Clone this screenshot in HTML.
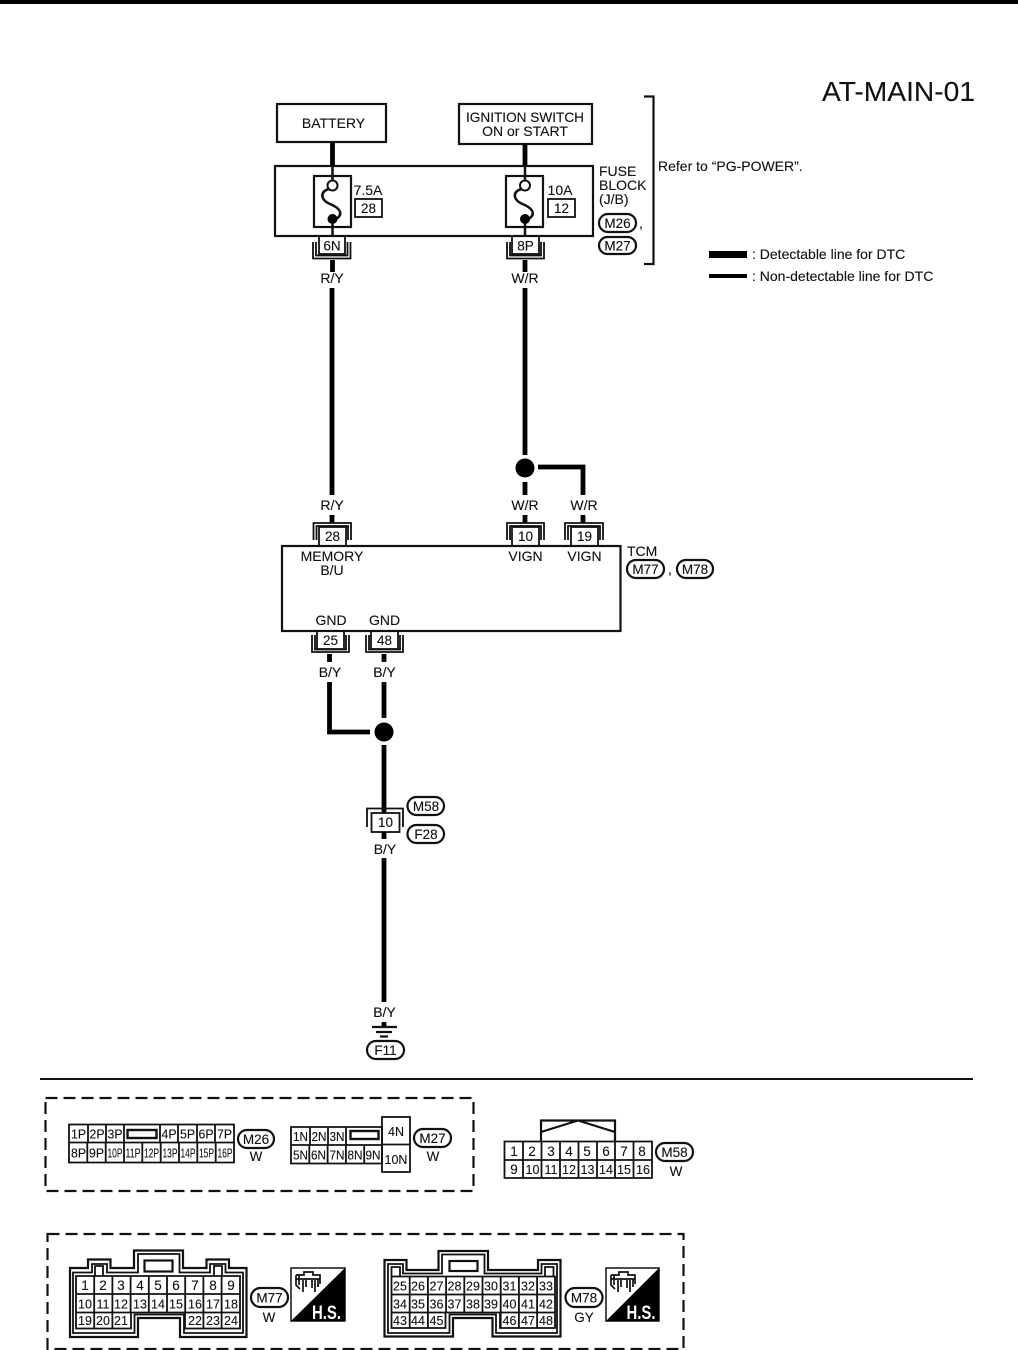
<!DOCTYPE html>
<html><head><meta charset="utf-8"><style>
html,body{margin:0;padding:0;background:#fff}
svg{display:block}
text{font-family:"Liberation Sans",sans-serif;font-size:14px;fill:#111;text-anchor:middle;stroke:#111;stroke-width:.12}
.l{text-anchor:start}
.s{font-size:12.5px}
.n{font-size:13.5px}
.b{fill:none;stroke:#111;stroke-width:2.2}
.t{fill:none;stroke:#111;stroke-width:1.8}
.w{fill:none;stroke:#000;stroke-width:4.8}
.f{fill:none;stroke:#111;stroke-width:2.5}
.d{fill:none;stroke:#111;stroke-width:2.2;stroke-dasharray:12 6}
</style></head><body>
<svg width="1018" height="1350" viewBox="0 0 1018 1350" xmlns="http://www.w3.org/2000/svg">
<rect width="1018" height="1350" fill="#fff"/>
<rect width="1018" height="4" fill="#000"/>
<text x="975" y="101" style="font-size:28.200px;text-anchor:end">AT-MAIN-01</text>

<!-- top boxes -->
<rect class="b" x="277" y="104" width="109" height="38"/>
<text x="333.500" y="128">BATTERY</text>
<rect class="b" x="459" y="104" width="133" height="40"/>
<text x="525" y="122" textLength="118" lengthAdjust="spacingAndGlyphs">IGNITION SWITCH</text>
<text x="525" y="136">ON or START</text>
<path class="w" d="M332.500 142V166M525 144V166"/>

<!-- fuse block -->
<rect class="b" x="275" y="166" width="318" height="70"/>
<rect class="b" x="314" y="176" width="37" height="51"/>
<rect class="b" x="506" y="176" width="37" height="51"/>
<path class="f" d="M332.500 166V181M332.500 219V236"/>
<path class="f" d="M525 166V181M525 219V236"/>
<path class="f" d="M329 189C319 192 321 200 330 204C340 208 344 214 336 219"/>
<path class="f" d="M521.500 189C511.500 192 513.500 200 522.500 204C532.500 208 536.500 214 528.500 219"/>
<circle cx="332.500" cy="185.500" r="5" fill="#fff" stroke="#111" stroke-width="2"/>
<circle cx="525" cy="185.500" r="5" fill="#fff" stroke="#111" stroke-width="2"/>
<circle cx="332.500" cy="219" r="5" fill="#000"/>
<circle cx="525" cy="219" r="5" fill="#000"/>
<text x="368" y="195">7.5A</text>
<rect class="t" x="355" y="199" width="27" height="18"/>
<text x="368.500" y="213" class="n">28</text>
<text x="560" y="195">10A</text>
<rect class="t" x="548" y="199" width="27" height="18"/>
<text x="561.500" y="213" class="n">12</text>
<text x="599" y="176" class="l">FUSE</text>
<text x="599" y="190" class="l">BLOCK</text>
<text x="599" y="204" class="l">(J/B)</text>
<rect class="b" x="599" y="214" width="37" height="18" rx="9"/>
<text x="617.500" y="228" class="n">M26</text>
<text x="641" y="228">,</text>
<rect class="b" x="599" y="237" width="37" height="17" rx="8.500"/>
<text x="617.500" y="250.500" class="n">M27</text>
<path class="b" d="M644 96.500H653.500V264H644"/>
<text x="658" y="171" class="l">Refer to “PG-POWER”.</text>

<!-- legend -->
<rect x="709" y="251" width="38" height="7" fill="#000"/>
<rect x="709" y="274" width="38" height="4" fill="#000"/>
<text x="752" y="259" class="l">: Detectable line for DTC</text>
<text x="752" y="281" class="l">: Non-detectable line for DTC</text>

<!-- connectors below fuse block -->
<rect class="t" x="319" y="236" width="26" height="18"/>
<text x="332" y="250.500" class="n">6N</text>
<path class="t" d="M313 242V258.500H350.500V242M316 242V255.500H347.500V242"/>
<rect class="t" x="512" y="236" width="27" height="18"/>
<text x="525.500" y="250.500" class="n">8P</text>
<path class="t" d="M507 242V258.500H544V242M510 242V255.500H541V242"/>
<path class="w" d="M332.500 260V272M525 260V272"/>
<text x="332" y="283">R/Y</text>
<text x="525" y="283">W/R</text>

<!-- main wires -->
<path class="w" d="M332 288V495M332 515V523"/>
<text x="332" y="510">R/Y</text>
<path class="w" d="M525 288V455M525 482V495M525 515V523"/>
<circle cx="525" cy="468" r="9.500" fill="#000"/>
<path class="w" d="M538 467H583V495M583 515V523"/>
<text x="525" y="510">W/R</text>
<text x="584" y="510">W/R</text>

<!-- TCM top connectors -->
<path class="t" d="M313.500 540V523H351V540M316.500 540V526H348V540"/>
<rect class="t" x="319" y="527" width="27" height="19"/>
<text x="332.500" y="541" class="n">28</text>
<path class="t" d="M507 540V523H544V540M510 540V526H541V540"/>
<rect class="t" x="512" y="527" width="27" height="19"/>
<text x="525.500" y="541" class="n">10</text>
<path class="t" d="M565 540V523H603V540M568 540V526H600V540"/>
<rect class="t" x="571" y="527" width="27" height="19"/>
<text x="584.500" y="541" class="n">19</text>

<!-- TCM -->
<rect class="b" x="282" y="546" width="338.500" height="85"/>
<text x="332" y="561">MEMORY</text>
<text x="332" y="575">B/U</text>
<text x="525.500" y="561">VIGN</text>
<text x="584.500" y="561">VIGN</text>
<text x="331" y="625">GND</text>
<text x="384.500" y="625">GND</text>
<text x="627" y="556" class="l">TCM</text>
<rect class="b" x="627" y="560" width="37" height="18" rx="9"/>
<text x="645.500" y="574" class="n">M77</text>
<text x="670" y="574">,</text>
<rect class="b" x="677" y="560" width="36" height="18" rx="9"/>
<text x="695" y="574" class="n">M78</text>

<!-- TCM bottom connectors -->
<rect class="t" x="317" y="631" width="27" height="18"/>
<text x="330.500" y="645" class="n">25</text>
<path class="t" d="M312 635V652H349V635M315 635V649.500H346V635"/>
<rect class="t" x="371" y="631" width="27" height="18"/>
<text x="384.500" y="645" class="n">48</text>
<path class="t" d="M366 635V652H403V635M369 635V649.500H400V635"/>
<path class="w" d="M329.500 654V662M384 654V662"/>
<text x="330" y="677">B/Y</text>
<text x="384.500" y="677">B/Y</text>
<path class="w" d="M329.500 682V732H370"/>
<path class="w" d="M384 682V718"/>
<circle cx="384" cy="732" r="9.500" fill="#000"/>
<path class="w" d="M384 745V813"/>

<!-- inline connector -->
<path class="t" d="M367 827V808.500H403V827"/>
<rect x="371.500" y="813" width="28" height="19" fill="#fff" stroke="#111" stroke-width="1.800"/>
<text x="385.500" y="827" class="n">10</text>
<path class="w" d="M384 832V839M384 858V1002M384 1022V1027"/>
<rect class="b" x="407.500" y="797" width="36.500" height="18" rx="9"/>
<text x="426" y="811" class="n">M58</text>
<rect class="b" x="407.500" y="825" width="36.500" height="18" rx="9"/>
<text x="426" y="839" class="n">F28</text>
<text x="385" y="854">B/Y</text>
<text x="384.500" y="1017">B/Y</text>
<path class="b" d="M372 1027H397M376 1032H392M380 1036.500H388"/>
<rect class="b" x="367" y="1041" width="37" height="18" rx="9"/>
<text x="385.500" y="1055" class="n">F11</text>

<line x1="40" y1="1079" x2="973" y2="1079" stroke="#111" stroke-width="2"/>

<!-- first dashed box -->
<rect class="d" x="45.500" y="1098" width="428" height="93"/>

<!-- M26 -->
<path class="t" d="M69 1124.500H234V1162.500H69ZM69 1142.500H234M88 1124.500V1142.500M106 1124.500V1142.500M124 1124.500V1142.500M160 1124.500V1142.500M178 1124.500V1142.500M197 1124.500V1142.500M215 1124.500V1142.500"/>
<path class="t" d="M87.300 1142.500V1162.500M105.700 1142.500V1162.500M124 1142.500V1162.500M142.300 1142.500V1162.500M160.700 1142.500V1162.500M179 1142.500V1162.500M197.300 1142.500V1162.500M215.700 1142.500V1162.500"/>
<rect x="127.500" y="1130" width="29" height="8" fill="none" stroke="#111" stroke-width="2.400"/>
<text class="s" x="78.500" y="1138.500" textLength="15" lengthAdjust="spacingAndGlyphs">1P</text><text class="s" x="97" y="1138.500" textLength="15" lengthAdjust="spacingAndGlyphs">2P</text><text class="s" x="115" y="1138.500" textLength="15" lengthAdjust="spacingAndGlyphs">3P</text>
<text class="s" x="169" y="1138.500" textLength="15" lengthAdjust="spacingAndGlyphs">4P</text><text class="s" x="187.500" y="1138.500" textLength="15" lengthAdjust="spacingAndGlyphs">5P</text><text class="s" x="206" y="1138.500" textLength="15" lengthAdjust="spacingAndGlyphs">6P</text><text class="s" x="224.500" y="1138.500" textLength="15" lengthAdjust="spacingAndGlyphs">7P</text>
<text class="s" x="78.500" y="1157.500" textLength="15" lengthAdjust="spacingAndGlyphs">8P</text><text class="s" x="96.500" y="1157.500" textLength="15" lengthAdjust="spacingAndGlyphs">9P</text>
<text class="s" x="115" y="1157.500" textLength="15" lengthAdjust="spacingAndGlyphs">10P</text>
<text class="s" x="133" y="1157.500" textLength="15" lengthAdjust="spacingAndGlyphs">11P</text>
<text class="s" x="151.500" y="1157.500" textLength="15" lengthAdjust="spacingAndGlyphs">12P</text>
<text class="s" x="170" y="1157.500" textLength="15" lengthAdjust="spacingAndGlyphs">13P</text>
<text class="s" x="188" y="1157.500" textLength="15" lengthAdjust="spacingAndGlyphs">14P</text>
<text class="s" x="206.500" y="1157.500" textLength="15" lengthAdjust="spacingAndGlyphs">15P</text>
<text class="s" x="225" y="1157.500" textLength="15" lengthAdjust="spacingAndGlyphs">16P</text>
<rect class="b" x="238" y="1130" width="36" height="18" rx="9"/>
<text x="256" y="1144" class="n">M26</text>
<text x="256" y="1161" class="n">W</text>

<!-- M27 -->
<path class="t" d="M291 1127H382V1163.500H291ZM291 1145H382M310 1127V1145M328 1127V1145M346 1127V1145"/>
<path class="t" d="M309.300 1145V1163.500M327.600 1145V1163.500M345.900 1145V1163.500M364.200 1145V1163.500"/>
<rect class="t" x="382" y="1117" width="28" height="55"/>
<line x1="382" y1="1144.500" x2="410" y2="1144.500" stroke="#111" stroke-width="1.800"/>
<rect x="350.500" y="1131" width="28" height="8" fill="none" stroke="#111" stroke-width="2.400"/>
<text class="s" x="300.500" y="1141" textLength="15" lengthAdjust="spacingAndGlyphs">1N</text><text class="s" x="319" y="1141" textLength="15" lengthAdjust="spacingAndGlyphs">2N</text><text class="s" x="337" y="1141" textLength="15" lengthAdjust="spacingAndGlyphs">3N</text>
<text class="s" x="396" y="1136">4N</text>
<text class="s" x="300.500" y="1159.500" textLength="15" lengthAdjust="spacingAndGlyphs">5N</text><text class="s" x="318.500" y="1159.500" textLength="15" lengthAdjust="spacingAndGlyphs">6N</text><text class="s" x="337" y="1159.500" textLength="15" lengthAdjust="spacingAndGlyphs">7N</text><text class="s" x="355" y="1159.500" textLength="15" lengthAdjust="spacingAndGlyphs">8N</text><text class="s" x="373" y="1159.500" textLength="15" lengthAdjust="spacingAndGlyphs">9N</text>
<text class="s" x="396" y="1164">10N</text>
<rect class="b" x="414" y="1129" width="37" height="18" rx="9"/>
<text x="432.500" y="1143" class="n">M27</text>
<text x="433" y="1161" class="n">W</text>

<!-- M58 -->
<path class="b" d="M541 1141V1120.500H615V1141M541 1132L578 1120.500L615 1132"/>
<path class="t" d="M504.500 1141.500H652V1178H504.500ZM504.500 1160H652M523 1141.500V1178M541.500 1141.500V1178M560 1141.500V1178M578.500 1141.500V1178M597 1141.500V1178M615 1141.500V1178M633.500 1141.500V1178"/>
<text class="n" x="514" y="1156">1</text><text class="n" x="532" y="1156">2</text><text class="n" x="551" y="1156">3</text><text class="n" x="569" y="1156">4</text><text class="n" x="587" y="1156">5</text><text class="n" x="606" y="1156">6</text><text class="n" x="624" y="1156">7</text><text class="n" x="642" y="1156">8</text>
<text class="n" x="514" y="1174">9</text><text class="s" x="532.500" y="1174">10</text><text class="s" x="551" y="1174">11</text><text class="s" x="569" y="1174">12</text><text class="s" x="587.500" y="1174">13</text><text class="s" x="606" y="1174">14</text><text class="s" x="624" y="1174">15</text><text class="s" x="643" y="1174">16</text>
<rect class="b" x="656" y="1143" width="37" height="18" rx="9"/>
<text x="674.500" y="1157" class="n">M58</text>
<text x="676" y="1176" class="n">W</text>

<!-- second dashed box -->
<rect class="d" x="47.500" y="1234" width="636" height="115"/>

<!-- M77 -->
<path class="b" d="M70 1268H88V1259.500H110.500V1268H134V1250.500H183V1268H206.500V1259.500H229V1268H246.500V1337H180V1318H138V1337H70Z"/>
<path class="t" d="M73 1272.500H92V1264H107V1272.500H138V1254H179.500V1272.500H210V1264H225.500V1272.500H243V1333H184V1314.500H134.500V1333H73Z"/>
<rect class="b" x="144.500" y="1260.500" width="28" height="11"/>
<path class="t" d="M95 1275.500V1266H103V1275.500M214 1275.500V1266H222V1275.500"/>
<path class="t" d="M76 1276H240V1294H76ZM76 1294H240V1312.500H76ZM76 1312.500H131V1328.500H76ZM185 1312.500H240V1328.500H185Z"/>
<path class="t" d="M94.200 1276V1328.500M112.400 1276V1328.500M130.600 1276V1312.500M148.800 1276V1312.500M167 1276V1312.500M185.200 1276V1312.500M203.400 1276V1328.500M221.600 1276V1328.500"/>
<text class="n" x="85" y="1290">1</text><text class="n" x="103" y="1290">2</text><text class="n" x="121" y="1290">3</text><text class="n" x="140" y="1290">4</text><text class="n" x="158" y="1290">5</text><text class="n" x="176" y="1290">6</text><text class="n" x="195" y="1290">7</text><text class="n" x="213" y="1290">8</text><text class="n" x="231" y="1290">9</text>
<text class="s" x="85" y="1308.500">10</text><text class="s" x="103" y="1308.500">11</text><text class="s" x="121" y="1308.500">12</text><text class="s" x="140" y="1308.500">13</text><text class="s" x="158" y="1308.500">14</text><text class="s" x="176" y="1308.500">15</text><text class="s" x="195" y="1308.500">16</text><text class="s" x="213" y="1308.500">17</text><text class="s" x="231" y="1308.500">18</text>
<text class="s" x="85" y="1325">19</text><text class="s" x="103" y="1325">20</text><text class="s" x="121" y="1325">21</text><text class="s" x="195" y="1325">22</text><text class="s" x="213" y="1325">23</text><text class="s" x="231" y="1325">24</text>
<rect class="b" x="251" y="1288" width="37" height="19" rx="9.500"/>
<text x="269.500" y="1302.500" class="n">M77</text>
<text x="269" y="1322" class="n">W</text>
<!-- HS badge 1 -->
<rect x="291" y="1268" width="54" height="53" fill="#fff" stroke="#111" stroke-width="1.500"/>
<path d="M291 1321L345 1268V1321Z" fill="#000"/>
<text x="326.500" y="1319" textLength="29" lengthAdjust="spacingAndGlyphs" style="font-size:19px;font-weight:bold;fill:#fff;stroke:none">H.S.</text>
<path d="M296 1275H304V1272H313V1275H320V1284M296 1275V1285L300 1289M296 1279H320M299 1275V1285M303 1280V1292M306 1280V1287M312 1280V1288M315 1280V1292M318 1279V1287" fill="none" stroke="#111" stroke-width="1.700"/>

<!-- M78 -->
<path class="b" d="M384.500 1260H406.500V1270H438.500V1251H488V1270H538V1260H560.500V1336.500H492.500V1318H453V1336.500H384.500Z"/>
<path class="t" d="M388 1264H403V1273.500H442V1254.500H484.500V1273.500H541.500V1264H557V1333H496V1314.500H449.500V1333H388Z"/>
<rect class="b" x="449.500" y="1261" width="28" height="10"/>
<path class="t" d="M391.500 1276V1267H400V1276M545 1276V1267H553.500V1276"/>
<path class="t" d="M391.500 1276.500H555V1294.500H391.500ZM391.500 1294.500H555V1312.500H391.500ZM391.500 1312.500H445.500V1328H391.500ZM500 1312.500H555V1328H500Z"/>
<path class="t" d="M409.700 1276.500V1328M427.900 1276.500V1328M446.100 1276.500V1312.500M464.300 1276.500V1312.500M482.500 1276.500V1312.500M500.700 1276.500V1328M518.900 1276.500V1328M537.100 1276.500V1328"/>
<text class="s" x="400" y="1290.500">25</text><text class="s" x="418" y="1290.500">26</text><text class="s" x="436.500" y="1290.500">27</text><text class="s" x="454.500" y="1290.500">28</text><text class="s" x="473" y="1290.500">29</text><text class="s" x="491" y="1290.500">30</text><text class="s" x="509.500" y="1290.500">31</text><text class="s" x="528" y="1290.500">32</text><text class="s" x="546" y="1290.500">33</text>
<text class="s" x="400" y="1308.500">34</text><text class="s" x="418" y="1308.500">35</text><text class="s" x="436.500" y="1308.500">36</text><text class="s" x="454.500" y="1308.500">37</text><text class="s" x="473" y="1308.500">38</text><text class="s" x="491" y="1308.500">39</text><text class="s" x="509.500" y="1308.500">40</text><text class="s" x="528" y="1308.500">41</text><text class="s" x="546" y="1308.500">42</text>
<text class="s" x="400" y="1325">43</text><text class="s" x="418" y="1325">44</text><text class="s" x="436.500" y="1325">45</text><text class="s" x="509.500" y="1325">46</text><text class="s" x="528" y="1325">47</text><text class="s" x="546" y="1325">48</text>
<rect class="b" x="565.500" y="1288" width="37" height="19" rx="9.500"/>
<text x="584" y="1302.500" class="n">M78</text>
<text x="584" y="1322" class="n">GY</text>
<!-- HS badge 2 -->
<rect x="606" y="1268" width="53" height="53" fill="#fff" stroke="#111" stroke-width="1.500"/>
<path d="M606 1321L659 1268V1321Z" fill="#000"/>
<text x="641" y="1319" textLength="29" lengthAdjust="spacingAndGlyphs" style="font-size:19px;font-weight:bold;fill:#fff;stroke:none">H.S.</text>
<path d="M611 1275H619V1272H628V1275H635V1284M611 1275V1285L615 1289M611 1279H635M614 1275V1285M618 1280V1292M621 1280V1287M627 1280V1288M630 1280V1292M633 1279V1287" fill="none" stroke="#111" stroke-width="1.700"/>
</svg>
</body></html>
